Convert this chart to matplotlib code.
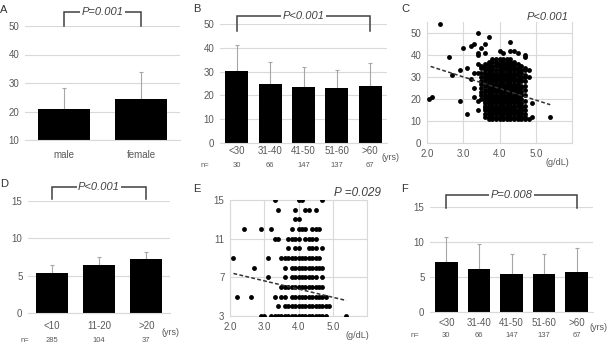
import matplotlib
matplotlib.use("Agg")
import matplotlib.pyplot as plt
import numpy as np

plt.rcParams['font.family'] = ['Liberation Sans', 'DejaVu Sans']

W, H = 609, 350
GRID = '#d9d9d9'
TXT = '#595959'
ERR = '#a6a6a6'

# ---- data ----
# A: sex
a_cats = ['male', 'female']
a_mean = [21.0, 24.5]
a_sd = [7.4, 9.2]

# B: age groups
b_cats = ['<30', '31-40', '41-50', '51-60', '>60']
b_mean = [30.3, 24.8, 23.4, 23.0, 24.1]
b_sd = [11.0, 9.4, 8.4, 7.7, 9.4]
b_n = ['30', '66', '147', '137', '67']

# D: years groups
d_cats = ['<10', '11-20', '>20']
d_mean = [5.35, 6.4, 7.2]
d_sd = [1.05, 1.1, 1.0]
d_n = ['285', '104', '37']

# F: age groups
f_cats = ['<30', '31-40', '41-50', '51-60', '>60']
f_mean = [7.1, 6.2, 5.5, 5.5, 5.7]
f_sd = [3.6, 3.5, 2.8, 2.8, 3.5]
f_n = ['30', '66', '147', '137', '67']

# C: albumin (g/dL) vs value, scattered points
c_x_out = [2.05, 2.15, 2.35, 2.6, 2.7, 2.9, 2.9, 3.0, 3.1, 3.1, 3.2, 3.2, 3.3, 3.3,
           3.3, 3.3, 3.4, 3.4, 3.4, 3.4, 3.4, 3.5, 3.5, 3.5, 3.5, 3.6, 3.6, 3.7,
           4.3, 4.0, 4.1, 4.3, 4.4, 4.5, 4.7, 4.7, 4.9, 4.9, 5.4, 3.4]
c_y_out = [20, 21, 54, 39, 31, 33, 19, 43, 34, 13, 44, 29, 45, 32,
           25, 21, 50, 41, 40, 19, 15, 43, 35, 27, 23, 45, 41, 48,
           46, 42, 41, 42, 42, 41, 40, 39, 12, 18, 12, 36]
# C: dense cluster, one row of albumin values per y level
c_levels = [38, 37, 36, 35, 34, 33, 32, 31, 30, 29, 28, 27, 26, 25,
            24, 23, 22, 21, 20, 19, 18, 17, 16, 15, 14, 13, 12, 11]
c_rows = [
    [3.8, 3.9, 4.0, 4.1, 4.2, 4.3],
    [3.7, 3.8, 3.9, 4.0, 4.1, 4.2, 4.3, 4.4],
    [3.6, 3.7, 3.9, 4.0, 4.1, 4.2, 4.3, 4.4, 4.5],
    [3.6, 3.7, 3.8, 3.9, 4.0, 4.1, 4.2, 4.3, 4.4, 4.6],
    [3.5, 3.6, 3.7, 3.8, 4.0, 4.1, 4.2, 4.3, 4.4, 4.5, 4.7],
    [3.6, 3.7, 3.8, 3.9, 4.0, 4.1, 4.2, 4.3, 4.4, 4.5, 4.6, 4.7, 4.8],
    [3.4, 3.5, 3.6, 3.7, 3.8, 3.9, 4.0, 4.1, 4.2, 4.3, 4.4, 4.5, 4.6],
    [3.6, 3.7, 3.8, 3.9, 4.0, 4.1, 4.2, 4.3, 4.4, 4.5, 4.7],
    [3.5, 3.6, 3.7, 3.8, 3.9, 4.0, 4.1, 4.2, 4.3, 4.4, 4.6, 4.7, 4.8],
    [3.6, 3.7, 3.8, 3.9, 4.0, 4.1, 4.2, 4.3, 4.4, 4.5, 4.6],
    [3.5, 3.6, 3.7, 3.8, 3.9, 4.0, 4.1, 4.2, 4.3, 4.4, 4.5, 4.6, 4.7],
    [3.6, 3.7, 3.8, 3.9, 4.0, 4.1, 4.2, 4.3, 4.4, 4.5],
    [3.6, 3.7, 3.8, 3.9, 4.0, 4.1, 4.2, 4.3, 4.4, 4.5, 4.6, 4.7],
    [3.5, 3.7, 3.8, 3.9, 4.0, 4.1, 4.2, 4.3, 4.4, 4.5, 4.6],
    [3.6, 3.7, 3.8, 3.9, 4.0, 4.1, 4.2, 4.3, 4.4, 4.5, 4.7],
    [3.6, 3.7, 3.8, 3.9, 4.0, 4.1, 4.2, 4.3, 4.4, 4.5, 4.6],
    [3.5, 3.6, 3.7, 3.8, 3.9, 4.0, 4.1, 4.2, 4.3, 4.4, 4.5, 4.6, 4.7],
    [3.6, 3.7, 3.8, 3.9, 4.0, 4.1, 4.2, 4.3, 4.4, 4.5],
    [3.5, 3.6, 3.7, 3.8, 3.9, 4.0, 4.1, 4.2, 4.3, 4.4, 4.5, 4.6],
    [3.6, 3.7, 3.8, 3.9, 4.0, 4.1, 4.2, 4.3, 4.4, 4.5, 4.7],
    [3.6, 3.7, 3.8, 3.9, 4.0, 4.1, 4.2, 4.3, 4.4, 4.5, 4.6],
    [3.6, 3.7, 3.8, 3.9, 4.0, 4.1, 4.2, 4.3, 4.4, 4.5, 4.6, 4.7],
    [3.6, 3.7, 3.8, 3.9, 4.0, 4.1, 4.2, 4.3, 4.4, 4.6],
    [3.6, 3.7, 3.8, 3.9, 4.0, 4.1, 4.2, 4.3, 4.4, 4.5, 4.6, 4.7],
    [3.7, 3.8, 3.9, 4.0, 4.1, 4.2, 4.3, 4.4, 4.5, 4.6],
    [3.6, 3.7, 3.8, 3.9, 4.0, 4.1, 4.2, 4.3, 4.4, 4.5, 4.6, 4.7],
    [3.6, 3.7, 3.8, 3.9, 4.0, 4.1, 4.2, 4.3, 4.4, 4.5, 4.6, 4.7],
    [3.7, 3.8, 3.9, 4.0, 4.1, 4.2, 4.3, 4.4, 4.5, 4.6, 4.7, 4.8],
]
c_trend_x = [2.1, 5.4]
c_trend_y = [34.8, 17.4]

# E: albumin (g/dL) vs value, one row per y level
e_levels = [15, 14, 13, 12, 11, 10, 9, 8, 7, 6, 5, 4, 3]
e_rows = [
    [3.3, 4.0, 4.1, 4.7],
    [3.4, 3.9, 4.2, 4.3, 4.5],
    [3.9, 4.0],
    [2.4, 2.9, 3.2, 3.8, 4.0, 4.1, 4.2, 4.4, 4.5, 4.6],
    [3.3, 3.4, 3.7, 3.8, 3.9, 4.0, 4.2, 4.3, 4.4, 4.5],
    [3.7, 3.9, 4.0, 4.3, 4.4, 4.5, 4.7],
    [2.1, 3.1, 3.5, 3.6, 3.7, 3.8, 3.9, 4.0, 4.1, 4.2, 4.3, 4.4, 4.5, 4.6],
    [2.7, 3.6, 3.8, 3.9, 4.0, 4.1, 4.2, 4.3, 4.4, 4.5, 4.6, 4.7],
    [3.1, 3.6, 3.8, 3.9, 4.0, 4.1, 4.2, 4.3, 4.4, 4.5, 4.7],
    [3.5, 3.6, 3.7, 3.8, 3.9, 4.0, 4.1, 4.2, 4.3, 4.4, 4.5, 4.6, 4.7],
    [2.2, 2.6, 3.3, 3.5, 3.6, 3.8, 3.9, 4.0, 4.1, 4.2, 4.3, 4.4, 4.5, 4.6, 4.7, 4.8],
    [3.4, 3.6, 3.7, 3.8, 3.9, 4.0, 4.1, 4.2, 4.3, 4.4, 4.5, 4.6, 4.7, 4.8, 4.9],
    [2.9, 3.0, 3.2, 3.3, 3.4, 3.5, 3.6, 3.7, 3.8, 3.9, 4.0, 4.1, 4.2, 4.3, 4.4,
     4.5, 4.6, 4.7, 4.8, 5.4],
]
e_trend_x = [2.1, 5.4]
e_trend_y = [7.4, 4.6]


fig = plt.figure(figsize=(W / 100, H / 100), dpi=100)


def px_axes(l, t, r, b):
    return fig.add_axes([l / W, 1 - b / H, (r - l) / W, (b - t) / H])


def fig_text(x, y, s, **kw):
    fig.text(x / W, 1 - y / H, s, **kw)


def bracket(ax, x0, x1, ylow, yhigh, label, fs=8):
    ax.plot([x0, x0, x1, x1], [ylow, yhigh, yhigh, ylow], color='#404040',
            lw=1.1, clip_on=False, solid_joinstyle='miter')
    ax.text((x0 + x1) / 2, yhigh, label, ha='center', va='center', style='italic',
            fontsize=fs, color='#404040',
            bbox=dict(facecolor='white', edgecolor='none', pad=1.0))


def bar_panel(ax, cats, mean, sd, ylim, yticks, width, xpad):
    x = np.arange(len(cats))
    ax.bar(x, np.array(mean) - ylim[0], width, bottom=ylim[0], color='black', zorder=2)
    ax.errorbar(x, mean, yerr=[np.zeros(len(sd)), sd], fmt='none', ecolor=ERR,
                elinewidth=0.8, capsize=1.5, capthick=0.8, zorder=1)
    ax.set_xlim(-0.5, len(cats) - 0.5)
    ax.set_ylim(*ylim)
    ax.set_yticks(yticks)
    ax.set_xticks(x)
    ax.set_xticklabels(cats)
    ax.grid(axis='y', color=GRID, lw=0.8, zorder=0)
    ax.set_axisbelow(True)
    for s in ['top', 'right', 'left']:
        ax.spines[s].set_visible(False)
    ax.spines['bottom'].set_color(GRID)
    ax.tick_params(length=0, labelsize=7, colors=TXT)
    ax.tick_params(axis='y', pad=4)
    ax.tick_params(axis='x', pad=xpad)


def scatter_panel(ax, xs, ys, tx, ty, ylim, yticks):
    ax.plot(xs, ys, 'o', color='black', ms=3.5, mew=0, zorder=3)
    ax.plot(tx, ty, color='#333333', ls=(0, (2.5, 1.5)), lw=1.1, zorder=4)
    ax.set_xlim(2, 6)
    ax.set_ylim(*ylim)
    ax.set_xticks([2, 3, 4, 5, 6])
    ax.set_xticklabels(['2.0', '3.0', '4.0', '5.0', ''])
    ax.set_yticks(yticks)
    ax.grid(color=GRID, lw=0.8, zorder=0)
    ax.set_axisbelow(True)
    for s in ['left', 'bottom', 'right']:
        ax.spines[s].set_color(GRID)
    ax.spines['top'].set_visible(False)
    ax.tick_params(length=0, labelsize=7, colors=TXT, pad=4)


# ---- A ----
axA = px_axes(25, 26, 180, 140)
bar_panel(axA, a_cats, a_mean, a_sd, (10, 50), [10, 20, 30, 40, 50], 0.67, 7)
bracket(axA, 0, 1, 50, 54.9, 'P=0.001')

# ---- B ----
axB = px_axes(220, 24, 387, 143)
bar_panel(axB, b_cats, b_mean, b_sd, (0, 50), [0, 10, 20, 30, 40, 50], 0.69, 2.5)
bracket(axB, 0, 4, 47.2, 53.4, 'P<0.001')
for i, n in enumerate(b_n):
    axB.text(i, -0.193, n, transform=axB.get_xaxis_transform(), ha='center',
             va='center', fontsize=5.5, color=TXT)
axB.text(-0.09, -0.193, 'n=', transform=axB.transAxes, ha='center', va='center',
         fontsize=5.5, color=TXT)
axB.text(1.02, -0.118, '(yrs)', transform=axB.transAxes, ha='center', va='center',
         fontsize=6.5, color=TXT)

# ---- C ----
axC = px_axes(427, 22, 572, 143)
cx = list(c_x_out) + [v for row in c_rows for v in row]
cy = list(c_y_out) + [lv for lv, row in zip(c_levels, c_rows) for _ in row]
scatter_panel(axC, cx, cy, c_trend_x, c_trend_y, (0, 55), [0, 10, 20, 30, 40, 50])
axC.text(0.83, 1.04, 'P<0.001', transform=axC.transAxes, ha='center', va='center',
         style='italic', fontsize=8, color='#404040')
axC.text(0.897, -0.165, '(g/dL)', transform=axC.transAxes, ha='center', va='center',
         fontsize=6.5, color=TXT)

# ---- D ----
axD = px_axes(28, 201, 170, 313)
bar_panel(axD, d_cats, d_mean, d_sd, (0, 15), [0, 5, 10, 15], 0.67, 6)
bracket(axD, 0, 2, 15.3, 16.9, 'P<0.001')
for i, n in enumerate(d_n):
    axD.text(i, -0.25, n, transform=axD.get_xaxis_transform(), ha='center',
             va='center', fontsize=5.5, color=TXT)
axD.text(-0.02, -0.25, 'n=', transform=axD.transAxes, ha='center', va='center',
         fontsize=5.5, color=TXT)
axD.text(1.0, -0.17, '(yrs)', transform=axD.transAxes, ha='center', va='center',
         fontsize=6.5, color=TXT)

# ---- E ----
axE = px_axes(230, 200, 367, 316)
ex = [v for row in e_rows for v in row]
ey = [lv for lv, row in zip(e_levels, e_rows) for _ in row]
scatter_panel(axE, ex, ey, e_trend_x, e_trend_y, (3, 15), [3, 7, 11, 15])
axE.spines['top'].set_visible(True)
axE.spines['top'].set_color(GRID)
axE.text(0.93, 1.06, 'P =0.029', transform=axE.transAxes, ha='center', va='center',
         style='italic', fontsize=8.5, color='#404040')
axE.text(0.927, -0.164, '(g/dL)', transform=axE.transAxes, ha='center', va='center',
         fontsize=6.5, color=TXT)

# ---- F ----
axF = px_axes(430, 207, 593, 312)
bar_panel(axF, f_cats, f_mean, f_sd, (0, 15), [0, 5, 10, 15], 0.69, 4)
bracket(axF, 0, 4, 14.9, 16.7, 'P=0.008')
for i, n in enumerate(f_n):
    axF.text(i, -0.22, n, transform=axF.get_xaxis_transform(), ha='center',
             va='center', fontsize=5.5, color=TXT)
axF.text(-0.09, -0.22, 'n=', transform=axF.transAxes, ha='center', va='center',
         fontsize=5.5, color=TXT)
fig_text(608, 328, '(yrs)', ha='right', va='center', fontsize=6.5, color=TXT)

# panel letters
for lab, x, y in [('A', 4, 10), ('B', 197, 9), ('C', 405, 9),
                  ('D', 4, 184), ('E', 197, 189), ('F', 405, 189)]:
    fig_text(x, y, lab, ha='center', va='center', fontsize=8, color='#333333')

fig.savefig('out.png', dpi=100)
